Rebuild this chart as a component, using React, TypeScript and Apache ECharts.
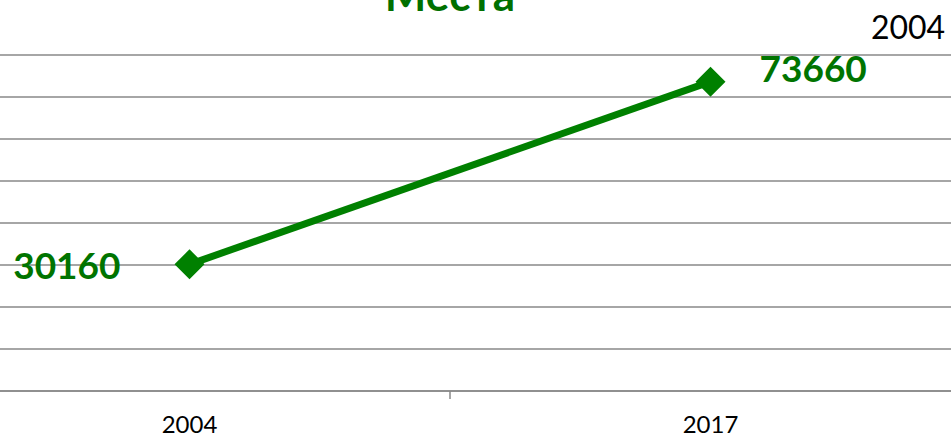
import React, { useEffect, useRef } from "react";
import * as echarts from "echarts";

const categories = ["2004", "2017"];
const values = [30160, 73660];
const seriesName = "2004";
const chartTitle = "Места";
const yMin = 0;
const yMax = 80000;
const yInterval = 10000;

const OFFSET_X = 71; // the chart area extends past the left of the visible picture

export default function App() {
  const ref = useRef<HTMLDivElement>(null);
  useEffect(() => {
    document.body.style.margin = "0";
    document.body.style.overflow = "hidden";
    const chart = echarts.init(ref.current!, undefined, { renderer: "svg" });
    const green = "#008000";
    const labelGreen = "#007400";
    chart.setOption({
      animation: false,
      backgroundColor: "#ffffff",
      textStyle: { fontFamily: "Lato, sans-serif" },
      grid: { left: 0, right: 0, top: 55, bottom: 46, containLabel: false },
      graphic: [
        {
          type: "text",
          x: 450 + OFFSET_X,
          y: -6,
          style: {
            text: chartTitle,
            fill: "#007000",
            font: "bold 44px Lato, sans-serif",
            textAlign: "center",
            textVerticalAlign: "middle",
          },
        },
        {
          type: "text",
          x: 908 + OFFSET_X,
          y: 26,
          style: {
            text: seriesName,
            fill: "#000000",
            font: "32px Lato, sans-serif",
            textAlign: "center",
            textVerticalAlign: "middle",
          },
        },
      ],
      xAxis: {
        type: "category",
        data: categories,
        boundaryGap: true,
        axisLine: { show: true, lineStyle: { color: "#898989", width: 1.5 } },
        axisTick: { show: true, length: 8, lineStyle: { color: "#898989", width: 1.5 } },
        axisLabel: { color: "#000000", fontSize: 24, margin: 20, fontFamily: "Lato, sans-serif" },
        splitLine: { show: false },
      },
      yAxis: {
        type: "value",
        min: yMin,
        max: yMax,
        interval: yInterval,
        axisLine: { show: false },
        axisTick: { show: false },
        axisLabel: { show: false },
        splitLine: { show: true, lineStyle: { color: "#898989", width: 1.5 } },
      },
      series: [
        {
          name: seriesName,
          type: "line",
          data: values.map((v, i) => ({
            value: v,
            label: i === 0
              ? { position: "left", distance: 54 }
              : { position: "right", distance: 34, offset: [0, -14] },
          })),
          symbol: "diamond",
          symbolSize: 30,
          lineStyle: { color: green, width: 7 },
          itemStyle: { color: green },
          label: {
            show: true,
            color: labelGreen,
            fontSize: 37,
            fontWeight: "bold",
            fontFamily: "Lato, sans-serif",
          },
        },
      ],
    });
    return () => chart.dispose();
  }, []);
  return (
    <div style={{ position: "absolute", left: 0, top: 0, width: 951, height: 437, overflow: "hidden" }}>
      <div ref={ref} style={{ position: "absolute", left: -OFFSET_X, top: 0, width: 1042, height: 437 }} />
    </div>
  );
}
